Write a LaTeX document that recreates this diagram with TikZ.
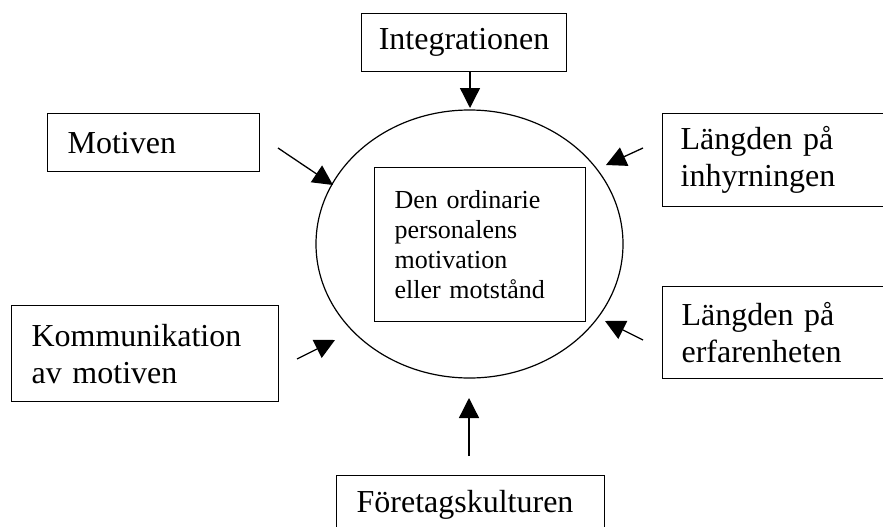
\documentclass[tikz,border=0pt]{standalone}
\usepackage{fontspec}
\setmainfont{Liberation Serif}
\usetikzlibrary{shapes.geometric,arrows.meta}
\begin{document}
\begin{tikzpicture}[x=1pt,y=-1pt,
  box/.style={draw, line width=1.2pt, rectangle, inner xsep=20pt, inner ysep=0pt,
    align=left, anchor=north west, font=\fontsize{32}{37}\selectfont},
  arr/.style={-{Triangle[length=20pt,width=20pt]}, line width=1.3pt}]
\clip (0,0) rectangle (883,527);
% central ellipse and inner box
\node[draw, ellipse, line width=1.2pt, minimum width=307pt, minimum height=268pt, inner sep=0pt] (circ) at (469.5,244) {};
\node[box, font=\fontsize{26}{30}\selectfont, text width=171pt, minimum height=154pt] (inner) at (374,167)
  {Den ordinarie\\personalens\\motivation\\eller motstånd};
% outer boxes
\node[box, align=center, inner xsep=14pt, text width=177pt, minimum height=58pt] (int) at (361,13) {Integrationen};
\node[box, text width=172pt, minimum height=58pt] (mot) at (47,113) {Motiven};
\node[box, inner xsep=18pt, text width=250pt, minimum height=93pt] (inh) at (662,113) {Längden på\\inhyrningen};
\node[box, text width=227pt, minimum height=96pt] (kom) at (11,305) {Kommunikation\\av motiven};
\node[box, inner xsep=19pt, text width=250pt, minimum height=92pt] (erf) at (662,286) {Längden på\\erfarenheten};
\node[box, text width=228pt, minimum height=58pt] (for) at (336,475) {Företagskulturen};
% arrow end points
\coordinate (iTip) at (470,108);
\coordinate (mTail) at (278,148);  \coordinate (mTip) at (333,185);
\coordinate (hTail) at (643,148);  \coordinate (hTip) at (606,165);
\coordinate (kTail) at (297,359);  \coordinate (kTip) at (335,340);
\coordinate (eTail) at (643,340);  \coordinate (eTip) at (605,321);
\coordinate (fTail) at (469,456);  \coordinate (fTip) at (469,398);
% arrows
\draw[arr] (int.south -| iTip) -- (iTip);
\draw[arr] (mTail) -- (mTip);
\draw[arr] (hTail) -- (hTip);
\draw[arr] (kTail) -- (kTip);
\draw[arr] (eTail) -- (eTip);
\draw[arr] (fTail) -- (fTip);
\end{tikzpicture}
\end{document}
